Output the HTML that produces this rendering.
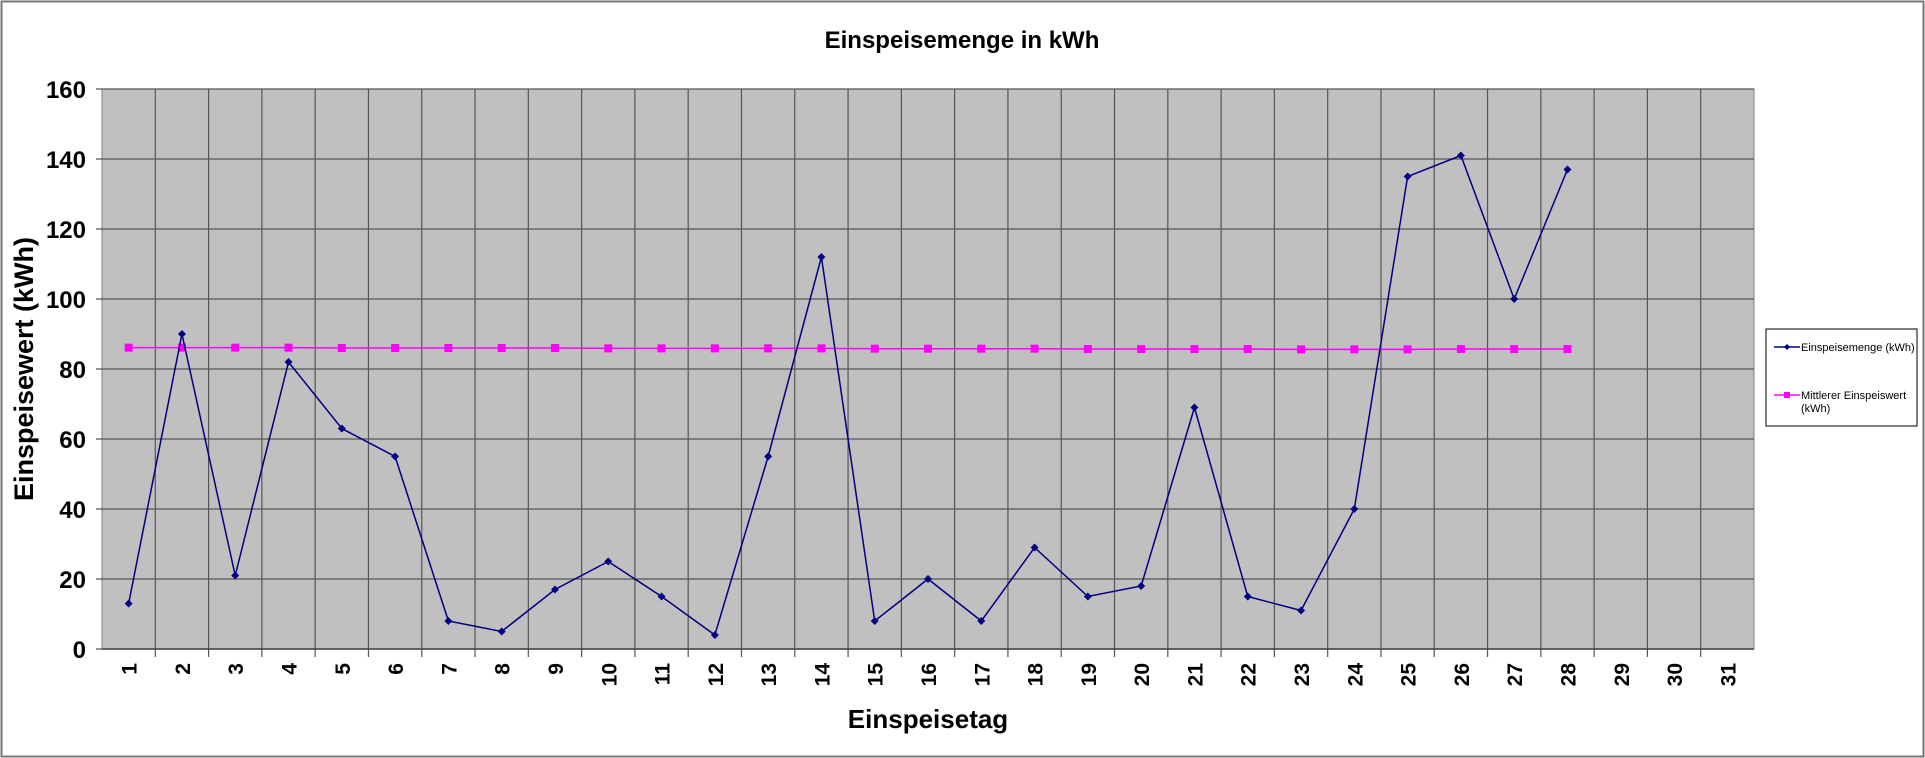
<!DOCTYPE html>
<html><head><meta charset="utf-8"><style>
body{margin:0;background:#fff;}
svg{display:block;font-family:"Liberation Sans",Arial,sans-serif;}
</style></head><body>
<svg id="chart" width="1925" height="758">
<rect x="1.5" y="1.5" width="1922" height="755" fill="#fff" stroke="#777" stroke-width="2"/>
<text x="962" y="48" text-anchor="middle" font-size="24" font-weight="bold">Einspeisemenge in kWh</text>
<rect x="102" y="89" width="1652" height="560" fill="#c0c0c0" stroke="#808080"/>
<g id="grid"></g><g id="axes"></g><g id="series"></g>
<text transform="translate(33,369) rotate(-90)" text-anchor="middle" font-size="27" font-weight="bold">Einspeisewert  (kWh)</text>
<text x="928" y="728" text-anchor="middle" font-size="26" font-weight="bold">Einspeisetag</text>
<g>
<rect x="1766" y="329" width="151" height="97" fill="#fff" stroke="#000"/>
<line x1="1774" y1="347" x2="1800" y2="347" stroke="#000080" stroke-width="1.5"/>
<path d="M1787 344 L1790 347 L1787 350 L1784 347Z" fill="#000080"/>
<text x="1801" y="351" font-size="11">Einspeisemenge (kWh)</text>
<line x1="1774" y1="395" x2="1800" y2="395" stroke="#ff00ff" stroke-width="1.5"/>
<rect x="1784" y="392" width="6" height="6" fill="#ff00ff"/>
<text x="1801" y="399" font-size="11">Mittlerer Einspeiswert</text>
<text x="1801" y="412" font-size="11">(kWh)</text>
</g>
</svg>
<script>
const categories=[1,2,3,4,5,6,7,8,9,10,11,12,13,14,15,16,17,18,19,20,21,22,23,24,25,26,27,28,29,30,31];
const einspeisemenge=[13,90,21,82,63,55,8,5,17,25,15,4,55,112,8,20,8,29,15,18,69,15,11,40,135,141,100,137];
const mittlerer=[86.1,86.1,86.1,86.1,86.0,86.0,86.0,86.0,86.0,85.9,85.9,85.9,85.9,85.9,85.8,85.8,85.8,85.8,85.7,85.7,85.7,85.7,85.6,85.6,85.6,85.7,85.7,85.7];
const yTicks=[0,20,40,60,80,100,120,140,160];
const NS="http://www.w3.org/2000/svg";
const L=102,R=1754,T=89,B=649,yMax=160;
const cw=(R-L)/categories.length;
const xPos=i=>L+cw*(i+0.5);
const yPos=v=>B-(v/yMax)*(B-T);
function mk(tag,attrs,parent){const e=document.createElementNS(NS,tag);for(const k in attrs)e.setAttribute(k,attrs[k]);parent.appendChild(e);return e;}
const grid=document.getElementById('grid'),axes=document.getElementById('axes'),ser=document.getElementById('series');
yTicks.forEach(t=>{const y=yPos(t);
 const l=mk('line',{x1:L-6,x2:R,y1:y,y2:y,stroke:'#555','stroke-width':1.2},grid);
 
 
 const tx=mk('text',{x:L-16,y:y+9,'text-anchor':'end','font-size':24,'font-weight':'bold'},axes);
 tx.textContent=t;
 
 
});
categories.forEach((c,i)=>{const x=L+cw*(i+1);
 if(i<categories.length-1){const l=mk('line',{x1:x,x2:x,y1:T,y2:B+8,stroke:'#555','stroke-width':1.2},grid);
 
 }
 const tx=mk('text',{transform:`translate(${xPos(i)+8},${B+14}) rotate(-90)`,'text-anchor':'end','font-size':21,'font-weight':'bold'},axes);
 tx.textContent=c;
 
 
});
mk('line',{x1:L,x2:R,y1:B,y2:B,stroke:'#444','stroke-width':1.5},axes);
const p1=mk('polyline',{points:mittlerer.map((v,i)=>xPos(i)+','+yPos(v)).join(' '),fill:'none',stroke:'#ff00ff','stroke-width':1.5},ser);


mittlerer.forEach((v,i)=>{const r=mk('rect',{x:xPos(i)-4,y:yPos(v)-4,width:8,height:8,fill:'#ff00ff'},ser);
 
 });
const p2=mk('polyline',{points:einspeisemenge.map((v,i)=>xPos(i)+','+yPos(v)).join(' '),fill:'none',stroke:'#000080','stroke-width':1.5},ser);


einspeisemenge.forEach((v,i)=>{const x=xPos(i),y=yPos(v);
 const d=mk('path',{d:`M${x} ${y-4}L${x+4} ${y}L${x} ${y+4}L${x-4} ${y}Z`,fill:'#000080'},ser);
 
 });
</script>
</body></html>
